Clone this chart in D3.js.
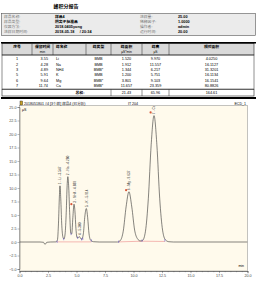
<!DOCTYPE html>
<html>
<head>
<meta charset="utf-8">
<script src="https://cdn.jsdelivr.net/npm/d3@7"></script>
<style>
  body { margin: 0; background: #fff; }
  svg { display: block; }
  text { font-family: "Liberation Sans", "Noto Sans CJK SC", sans-serif; }
</style>
</head>
<body>
<div id="report"></div>
<script>
// report header
const reportTitle = "峰积分报告";
const infoLabelsL = ["样品名称:", "样品类型:", "仪器方法:", "进样日期时间:"];
const infoValuesL = ["样品4", "阴离子标准品", "2018.0405yong", "2018-05-18     / 20:34"];
const infoLabelsR = ["进样量:", "稀释因子:", "操作者:", "运行时间:"];
const infoValuesR = ["25.00", "1.0000", "admin", "20.00"];

// peak table
const colHeads = ["序号", "保留时间", "峰名称", "峰类型", "峰面积", "峰高", "相对面积"];
const colUnits = ["", "min", "", "", "μS*min", "μS", ""];
const peakNo = ["1", "2", "3", "5", "6", "7"];
const retTime = ["3.55", "4.28", "4.89", "5.91", "9.64", "11.74"];
const peakName = ["Li", "Na", "NH4", "K", "Mg", "Ca"];
const peakType = ["BMB", "BMB", "BMB*", "BMB", "BMB*", "BMB*"];
const peakArea = ["1.520", "1.912", "1.344", "1.200", "3.801", "11.657"];
const peakHeight = ["9.970", "11.557", "6.217", "5.751", "9.103", "23.359"];
const relArea = ["4.0250", "16.1127", "31.3201", "16.1134", "16.1541", "80.8826"];
const totalLabel = "总和:";
const totals = ["21.43", "65.96", "164.61"];

// chromatogram
const chartTitle = "2018051801 #4 [3个样] 样品4 (已分析)";
const chartMid = "IT 204";
const chartChannel = "ECD_1";
const xTicks = [0, 2.5, 5, 7.5, 10, 12.5, 15, 17.5, 20];
const yTicks = [-5, -2.5, 0, 2.5, 5, 7.5, 10, 12.5, 15, 17.5, 20, 22.5, 25];
const traceTime = [0, 1.8, 2.1, 2.24, 2.4, 2.7, 3.2, 3.33, 3.42, 3.5, 3.55, 3.62, 3.7, 3.8, 3.9,
  4.0, 4.1, 4.18, 4.24, 4.32, 4.4, 4.5, 4.58, 4.68, 4.78, 4.86, 4.95, 5.05, 5.15, 5.25, 5.35,
  5.45, 5.6, 5.72, 5.86, 5.98, 6.1, 6.25, 6.5, 7, 8.6, 8.85, 9.1, 9.35, 9.6, 9.85, 10.1, 10.35,
  10.6, 10.8, 11.05, 11.3, 11.55, 11.8, 12.05, 12.3, 12.55, 12.8, 13.1, 13.5, 20];
const traceSignal = [0, 0, -0.05, -0.45, -0.05, 0, 0.02, 0.4, 3.5, 8.5, 10.4, 8, 3.5, 1.0, 0.55,
  1.5, 5.5, 10.5, 12.1, 10, 5.5, 1.6, 1.5, 4.5, 7.0, 5.8, 2.5, 0.8, 0.8, 1.0, 0.7,
  0.5, 1.5, 4.5, 6.2, 4.5, 1.5, 0.3, 0.05, 0, 0, 0.3, 2, 6.5, 9.3, 6.5, 2.2, 0.6,
  0.2, 0.3, 2, 8, 18, 23.4, 18, 8, 2.2, 0.4, 0.05, 0, 0];
const baseTime = [[3.3, 6.3], [8.7, 10.75, 12.75]];
const baseSignal = [[0.02, 0.02], [0.02, 0.15, 0.1]];
const boundTime = [3.3, 3.88, 4.52, 5.1, 5.45, 5.55, 6.3, 8.7, 10.75, 12.75];
const boundSignal = [0.05, 0.55, 1.5, 0.8, 0.5, 0.6, 0.3, 0.05, 0.25, 0.3];
const dotTime = [4.55, 9.35, 11.5];
const dotSignal = [7.0, 9.6, 24.0];
const labelTime = [3.55, 4.24, 4.82, 5.25, 5.86, 9.6, 11.8];
const labelSignal = [10.4, 12.1, 7.0, 1.0, 6.2, 9.3, 23.4];
const labelText = ["1 - Li - 3.547", "2 - Na - 4.280", "3 - NH4 - 4.889", "4 - 5.300",
  "5 - K - 5.914", "6 - Mg - 9.637", "7 - Ca - 11.740"];

const width = 257;
const height = 282;

const svg = d3
  .select("#report")
  .append("svg")
  .attr("width", width)
  .attr("height", height);

// Title
svg
  .append("text")
  .attr("x", 66)
  .attr("y", 8)
  .attr("text-anchor", "middle")
  .attr("font-size", 5)
  .attr("font-weight", "bold")
  .text(reportTitle);

// Info box
svg
  .append("rect")
  .attr("x", 1.5)
  .attr("y", 13.5)
  .attr("width", 254)
  .attr("height", 22)
  .attr("fill", "#ebebeb")
  .attr("stroke", "#555")
  .attr("stroke-width", 0.6);

const infoRows = d3.range(infoLabelsL.length);
const rowY = i => 18 + i * 5.1;

const info = svg.append("g").attr("font-size", 3.8);
info
  .selectAll(".labL")
  .data(infoRows)
  .join("text")
  .attr("x", 4)
  .attr("y", rowY)
  .attr("fill", "#777")
  .text(i => infoLabelsL[i]);
info
  .selectAll(".valL")
  .data(infoRows)
  .join("text")
  .attr("x", 55)
  .attr("y", rowY)
  .attr("font-weight", "bold")
  .style("white-space", "pre")
  .text(i => infoValuesL[i]);
info
  .selectAll(".labR")
  .data(infoRows)
  .join("text")
  .attr("x", 140)
  .attr("y", rowY)
  .attr("fill", "#777")
  .text(i => infoLabelsR[i]);
info
  .selectAll(".valR")
  .data(infoRows)
  .join("text")
  .attr("x", 178)
  .attr("y", rowY)
  .attr("font-weight", "bold")
  .text(i => infoValuesR[i]);

// Peak table
const colEdges = [2, 32, 53, 86, 111, 142, 169, 254];
const colMid = i => (colEdges[i] + colEdges[i + 1]) / 2;
const table = svg.append("g").attr("font-size", 3.8);

table
  .append("rect")
  .attr("x", colEdges[0])
  .attr("y", 43.5)
  .attr("width", colEdges[7] - colEdges[0])
  .attr("height", 11.5)
  .attr("fill", "#d9d9d9")
  .attr("stroke", "#222")
  .attr("stroke-width", 0.6);
table
  .append("line")
  .attr("x1", 1)
  .attr("x2", 256)
  .attr("y1", 42.8)
  .attr("y2", 42.8)
  .attr("stroke", "#000")
  .attr("stroke-width", 1.6);
table
  .selectAll(".vline")
  .data(colEdges.slice(1, 7))
  .join("line")
  .attr("x1", d => d)
  .attr("x2", d => d)
  .attr("y1", 43.5)
  .attr("y2", 55)
  .attr("stroke", "#222")
  .attr("stroke-width", 0.5);
table
  .selectAll(".head")
  .data(colHeads)
  .join("text")
  .attr("x", (d, i) => (i === 2 ? colEdges[2] + 3 : colMid(i)))
  .attr("y", 48)
  .attr("text-anchor", (d, i) => (i === 2 ? "start" : "middle"))
  .attr("font-weight", "bold")
  .text(d => d);
table
  .selectAll(".unit")
  .data(colUnits)
  .join("text")
  .attr("x", (d, i) => colMid(i))
  .attr("y", 53.3)
  .attr("text-anchor", "middle")
  .attr("font-size", 3.3)
  .text(d => d);

// data rows
table
  .append("rect")
  .attr("x", colEdges[0])
  .attr("y", 55)
  .attr("width", colEdges[7] - colEdges[0])
  .attr("height", 34)
  .attr("fill", "none")
  .attr("stroke", "#222")
  .attr("stroke-width", 0.5);

const rows = d3.range(peakNo.length);
const dataY = i => 60.2 + i * 5.35;
const cols = [
  { vals: peakNo, x: colMid(0), anchor: "middle" },
  { vals: retTime, x: 48, anchor: "end" },
  { vals: peakName, x: colEdges[2] + 3, anchor: "start" },
  { vals: peakType, x: colMid(3), anchor: "middle" },
  { vals: peakArea, x: colMid(4), anchor: "middle" },
  { vals: peakHeight, x: colMid(5), anchor: "middle" },
  { vals: relArea, x: colMid(6), anchor: "middle" }
];
cols.forEach(c => {
  table
    .append("g")
    .selectAll("text")
    .data(rows)
    .join("text")
    .attr("x", c.x)
    .attr("y", dataY)
    .attr("text-anchor", c.anchor)
    .text(i => c.vals[i]);
});

// total row
table
  .append("rect")
  .attr("x", colEdges[0])
  .attr("y", 89.5)
  .attr("width", colEdges[7] - colEdges[0])
  .attr("height", 6.5)
  .attr("fill", "none")
  .attr("stroke", "#222")
  .attr("stroke-width", 0.6);
table
  .selectAll(".tline")
  .data(colEdges.slice(4, 7))
  .join("line")
  .attr("x1", d => d)
  .attr("x2", d => d)
  .attr("y1", 89.5)
  .attr("y2", 96)
  .attr("stroke", "#222")
  .attr("stroke-width", 0.5);
table
  .append("text")
  .attr("x", 80)
  .attr("y", 94)
  .attr("text-anchor", "middle")
  .attr("font-weight", "bold")
  .text(totalLabel);
table
  .selectAll(".tot")
  .data(totals)
  .join("text")
  .attr("x", (d, i) => colMid(i + 4))
  .attr("y", 94)
  .attr("text-anchor", "middle")
  .text(d => d);
table
  .append("line")
  .attr("x1", 1)
  .attr("x2", 256)
  .attr("y1", 98)
  .attr("y2", 98)
  .attr("stroke", "#000")
  .attr("stroke-width", 2.2);

// Chromatogram
const xScale = d3.scaleLinear().domain([0, 20]).range([19.5, 247.5]);
const yScale = d3.scaleLinear().domain([-5, 25]).range([269, 107]);

const chart = svg.append("g");

chart
  .append("clipPath")
  .attr("id", "plotClip")
  .append("rect")
  .attr("x", xScale(0))
  .attr("y", 106)
  .attr("width", xScale(20) - xScale(0))
  .attr("height", 271 - 106);

chart
  .append("rect")
  .attr("x", xScale(0))
  .attr("y", 105.5)
  .attr("width", xScale(20) - xScale(0))
  .attr("height", 271 - 105.5)
  .attr("fill", "#fffaec")
  .attr("stroke", "#888")
  .attr("stroke-width", 0.5);

chart
  .append("rect")
  .attr("x", 20)
  .attr("y", 101)
  .attr("width", 2.6)
  .attr("height", 4)
  .attr("fill", "#c9a227")
  .attr("stroke", "#222")
  .attr("stroke-width", 0.4);
chart
  .append("text")
  .attr("x", 24)
  .attr("y", 104.5)
  .attr("font-size", 3.6)
  .text(chartTitle);
chart
  .append("text")
  .attr("x", 133)
  .attr("y", 104.5)
  .attr("font-size", 3.6)
  .attr("text-anchor", "middle")
  .text(chartMid);
chart
  .append("text")
  .attr("x", 246)
  .attr("y", 104.5)
  .attr("font-size", 3.6)
  .attr("text-anchor", "end")
  .text(chartChannel);

// axes
const yAxis = d3
  .axisLeft(yScale)
  .tickValues(yTicks)
  .tickSize(2)
  .tickPadding(1)
  .tickFormat(d3.format(".1f"));
const gY = chart
  .append("g")
  .attr("transform", "translate(" + xScale(0) + ",0)")
  .call(yAxis);

const xAxis = d3
  .axisBottom(xScale)
  .tickValues(xTicks)
  .tickSize(2.2)
  .tickPadding(0.8)
  .tickFormat(d3.format(".1f"));
const gX = chart
  .append("g")
  .attr("transform", "translate(0,271)")
  .call(xAxis);
const gXm = chart
  .append("g")
  .attr("transform", "translate(0,271)")
  .call(
    d3
      .axisBottom(xScale)
      .tickValues(d3.range(0, 20.01, 0.5))
      .tickSize(1.2)
      .tickFormat("")
  );

[gX, gY, gXm].forEach(g => {
  g.attr("font-size", 3.7).attr("font-family", null);
  g.select(".domain").attr("stroke", "#555").attr("stroke-width", 0.5);
  g.selectAll(".tick line").attr("stroke", "#555").attr("stroke-width", 0.4);
  g.selectAll(".tick text").attr("fill", "#444");
});

chart
  .append("text")
  .attr("x", 22)
  .attr("y", 111)
  .attr("font-size", 3.6)
  .text("μS");
chart
  .append("text")
  .attr("x", 244)
  .attr("y", 267)
  .attr("font-size", 3.4)
  .attr("text-anchor", "end")
  .text("min");

const plot = chart.append("g").attr("clip-path", "url(#plotClip)");

// integration baselines
const baseLine = d3
  .line()
  .x(d => xScale(d[0]))
  .y(d => yScale(d[1]));
plot
  .selectAll(".base")
  .data(baseTime.map((ts, k) => ts.map((t, j) => [t, baseSignal[k][j]])))
  .join("path")
  .attr("fill", "none")
  .attr("stroke", "#ec8a8a")
  .attr("stroke-width", 0.6)
  .attr("d", baseLine);

// trace
const traceLine = d3
  .line()
  .curve(d3.curveMonotoneX)
  .x(d => xScale(d[0]))
  .y(d => yScale(d[1]));
plot
  .append("path")
  .datum(traceTime.map((t, i) => [t, traceSignal[i]]))
  .attr("fill", "none")
  .attr("stroke", "#333")
  .attr("stroke-width", 0.6)
  .attr("d", traceLine);

// peak boundary marks
plot
  .selectAll(".bound")
  .data(boundTime)
  .join("line")
  .attr("x1", d => xScale(d))
  .attr("x2", d => xScale(d))
  .attr("y1", (d, i) => yScale(boundSignal[i]) - 1.2)
  .attr("y2", (d, i) => yScale(boundSignal[i]) + 1.2)
  .attr("stroke", "#6a5acd")
  .attr("stroke-width", 0.6);

// peak markers
plot
  .selectAll(".dot")
  .data(dotTime)
  .join("circle")
  .attr("cx", d => xScale(d))
  .attr("cy", (d, i) => yScale(dotSignal[i]))
  .attr("r", 1.1)
  .attr("fill", "#d8573a");

// peak labels
plot
  .selectAll(".plabel")
  .data(labelTime)
  .join("text")
  .attr("transform", (d, i) => {
    const x = xScale(d) + 1.2;
    const y = yScale(labelSignal[i]) - 1.5;
    return `translate(${x},${y}) rotate(-90)`;
  })
  .attr("font-size", 3.2)
  .attr("fill", "#333")
  .text((d, i) => labelText[i]);
</script>
</body>
</html>
